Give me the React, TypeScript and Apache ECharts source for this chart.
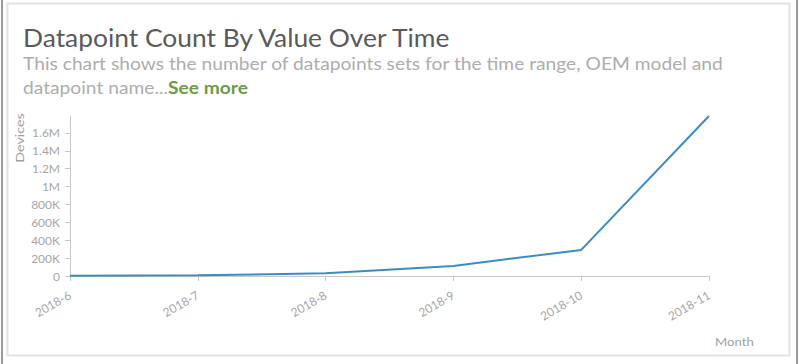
import React, { useEffect, useRef } from "react";
import * as echarts from "echarts";

const months = ["2018-6", "2018-7", "2018-8", "2018-9", "2018-10", "2018-11"];
const devices = [2000, 8000, 30000, 112000, 292000, 1790000];
const yMax = 1790000;
const yInterval = 200000;

const titleText = "Datapoint Count By Value Over Time";
const subtitleLine1 = "This chart shows the number of datapoints sets for the time range, OEM model and";
const subtitleLine2 = "datapoint name...";
const seeMore = "See more";
const yName = "Devices";
const xName = "Month";

function fmt(v: number): string {
  if (v === 0) return "0";
  if (v >= 1000000) return `${+(v / 1000000).toFixed(1)}M`;
  return `${Math.round(v / 1000)}K`;
}

export default function App() {
  const ref = useRef<HTMLDivElement>(null);
  useEffect(() => {
    const chart = echarts.init(ref.current!, null, { renderer: "svg" });
    const axisGray = "#c8c8c8";
    const labelGray = "#a6a6a6";
    chart.setOption({
      animation: false,
      backgroundColor: "#fff",
      grid: { left: 70, right: 90, top: 116, bottom: 88, containLabel: false },
      xAxis: {
        type: "category",
        data: months,
        boundaryGap: false,
        axisLine: { lineStyle: { color: axisGray, width: 1 } },
        axisTick: { show: true, length: 5, alignWithLabel: true, lineStyle: { color: axisGray } },
        axisLabel: {
          rotate: 30,
          color: labelGray,
          fontFamily: "Lato",
          fontSize: 12,
          margin: 18,
        },
        splitLine: { show: false },
      },
      yAxis: {
        type: "value",
        min: 0,
        max: yMax,
        interval: yInterval,
        axisLine: { show: true, lineStyle: { color: axisGray, width: 1 } },
        axisTick: { show: true, length: 5, lineStyle: { color: axisGray } },
        axisLabel: {
          color: labelGray,
          fontFamily: "Lato",
          fontSize: 12,
          margin: 10,
          showMaxLabel: false,
          formatter: (v: number) => fmt(v),
        },
        splitLine: { show: false },
      },
      series: [
        {
          type: "line",
          data: devices,
          showSymbol: false,
          symbol: "none",
          lineStyle: { color: "#3b8bc5", width: 2 },
        },
      ],
      graphic: [
        {
          type: "rect",
          silent: true,
          shape: { x: 1, y: 0, width: 2, height: 364 },
          style: { fill: "#9a9a9a" },
        },
        {
          type: "rect",
          silent: true,
          shape: { x: 796, y: 0, width: 2, height: 364 },
          style: { fill: "#9a9a9a" },
        },
        {
          type: "rect",
          silent: true,
          shape: { x: 7.5, y: 3.5, width: 782, height: 352 },
          style: { fill: "none", stroke: "#e2e2e2", lineWidth: 2 },
        },
        {
          type: "text",
          x: 23,
          y: 37,
          scaleX: 1.055,
          style: {
            text: titleText,
            fontFamily: "Lato",
            fontSize: 25,
            fill: "#5a5a5a",
            verticalAlign: "middle",
          },
        },
        {
          type: "text",
          x: 23,
          y: 63,
          scaleX: 1.13,
          style: {
            text: subtitleLine1,
            fontFamily: "Lato",
            fontSize: 17,
            fill: "#adadad",
            verticalAlign: "middle",
          },
        },
        {
          type: "text",
          x: 23,
          y: 87,
          scaleX: 1.13,
          style: {
            text: `{a|${subtitleLine2}}{b|${seeMore}}`,
            verticalAlign: "middle",
            rich: {
              a: { fontFamily: "Lato", fontSize: 17, fill: "#adadad" },
              b: { fontFamily: "Lato", fontSize: 17, fontWeight: "bold", fill: "#6e9b45" },
            },
          },
        },
        {
          type: "text",
          x: 20,
          y: 138,
          rotation: Math.PI / 2,
          scaleX: 1.3,
          style: {
            text: yName,
            fontFamily: "Lato",
            fontSize: 11,
            fill: "#a0a0a0",
            align: "center",
            verticalAlign: "middle",
          },
        },
        {
          type: "text",
          x: 715,
          y: 342,
          scaleX: 1.2,
          style: {
            text: xName,
            fontFamily: "Lato",
            fontSize: 11,
            fill: "#a0a0a0",
            align: "left",
            verticalAlign: "middle",
          },
        },
      ],
    });
    return () => chart.dispose();
  }, []);
  return (
    <div
      ref={ref}
      style={{ position: "fixed", left: 0, top: 0, width: 799, height: 364 }}
    />
  );
}
